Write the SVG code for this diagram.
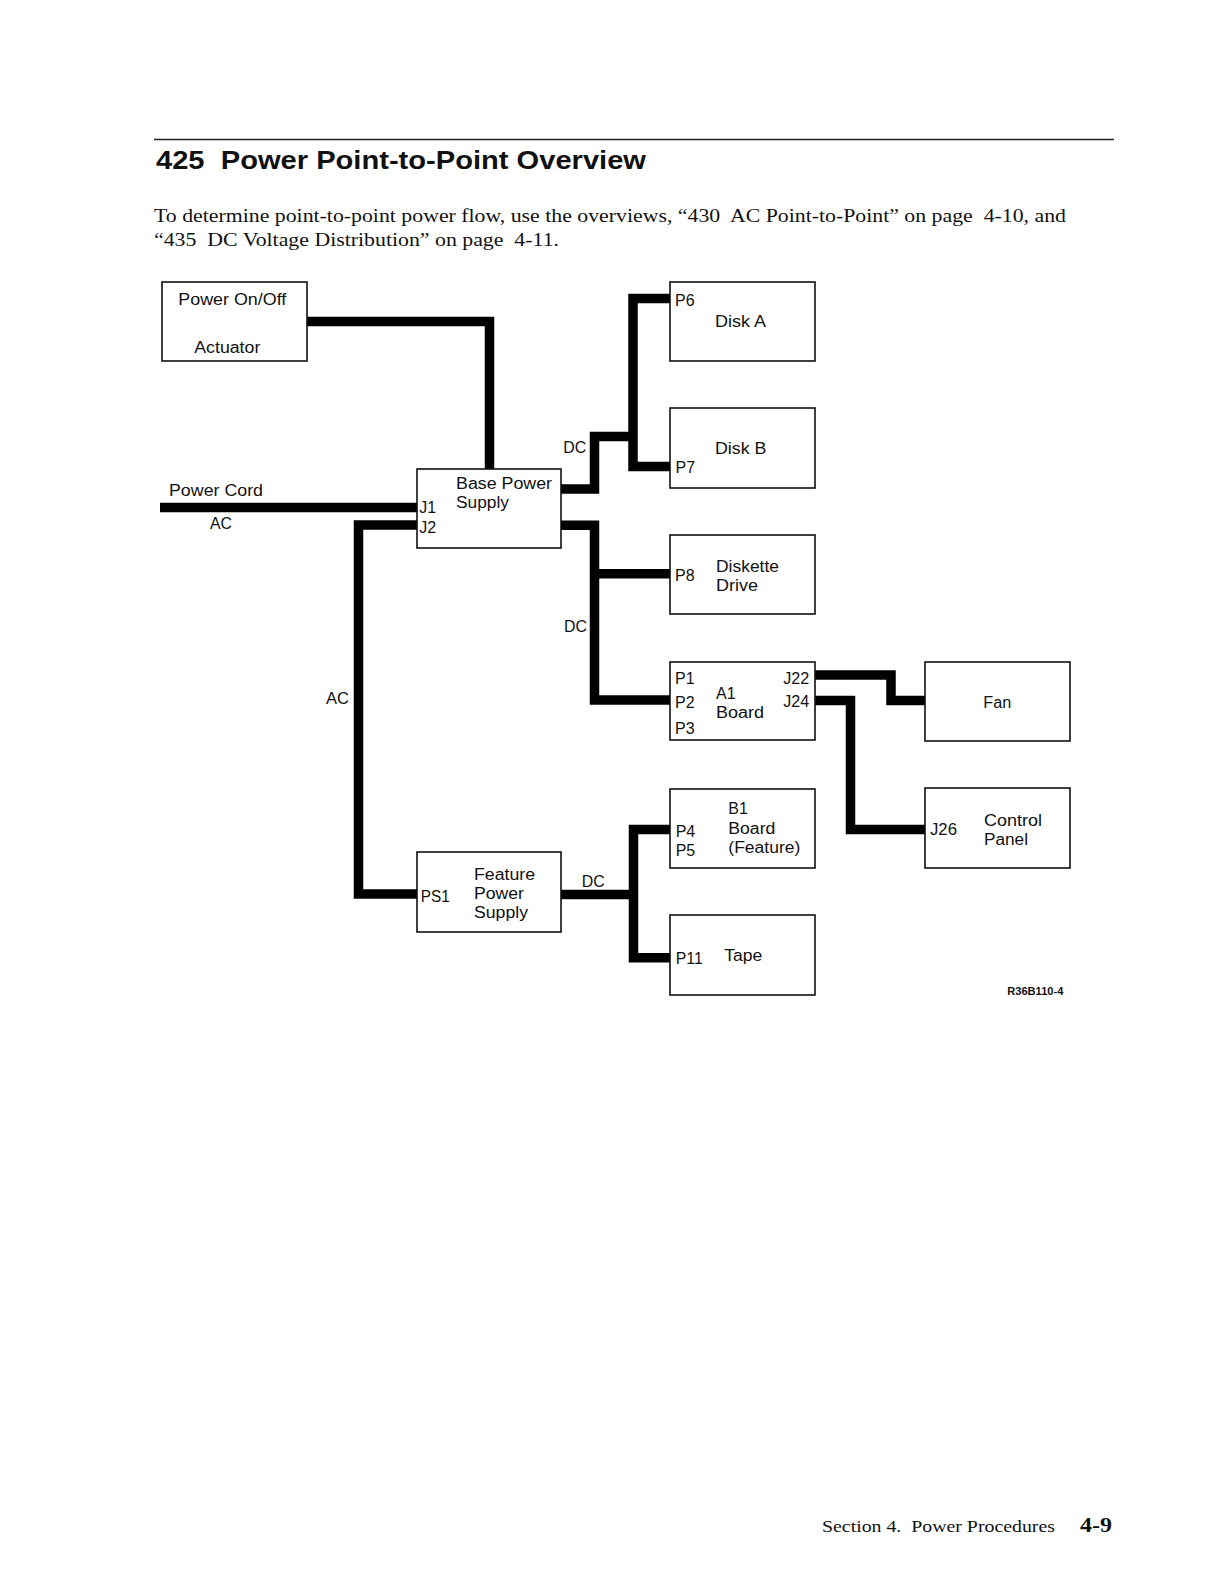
<svg xmlns="http://www.w3.org/2000/svg" width="1224" height="1582" viewBox="0 0 1224 1582">
<style>
.box{fill:#fff;stroke:#111;stroke-width:1.6}
.w{fill:none;stroke:#000;stroke-width:9.5;stroke-linejoin:miter;stroke-linecap:butt}
.l{font-family:"Liberation Sans",Arial,sans-serif;font-size:16px;fill:#111}
.t{font-family:"Liberation Serif","Times New Roman",serif;font-size:19px;fill:#111}
</style>
<rect width="1224" height="1582" fill="#fff"/>
<g id="header">
<line x1="154" y1="139.5" x2="1114" y2="139.5" stroke="#222" stroke-width="1.6"/>
<text x="156" y="169" font-family="'Liberation Sans',Arial,sans-serif" font-weight="bold" font-size="25" fill="#111" textLength="490" lengthAdjust="spacingAndGlyphs">425&#160; Power Point-to-Point Overview</text>
<text class="t" x="154" y="221.5" textLength="912" lengthAdjust="spacingAndGlyphs">To determine point-to-point power flow, use the overviews, “430&#160; AC Point-to-Point” on page&#160; 4-10, and</text>
<text class="t" x="154" y="246" textLength="405" lengthAdjust="spacingAndGlyphs">“435&#160; DC Voltage Distribution” on page&#160; 4-11.</text>
</g>
<g id="connectors">
<polyline class="w" points="307,321.5 489.5,321.5 489.5,469"/>
<polyline class="w" points="160,507.5 417,507.5"/>
<polyline class="w" points="417,525 358.5,525 358.5,894 417,894"/>
<polyline class="w" points="561,489 594.5,489 594.5,436.5 633,436.5"/>
<polyline class="w" points="670,298.5 633,298.5 633,466.5 670,466.5"/>
<polyline class="w" points="561,525.3 594.5,525.3 594.5,700 670,700"/>
<polyline class="w" points="594.5,573.8 670,573.8"/>
<polyline class="w" points="815,675 891,675 891,700.5 925,700.5"/>
<polyline class="w" points="815,700.5 850.5,700.5 850.5,829.5 925,829.5"/>
<polyline class="w" points="561,894.5 633.5,894.5"/>
<polyline class="w" points="670,829.5 633.5,829.5 633.5,957.7 670,957.7"/>
<text class="l" x="169" y="495.5" textLength="94" lengthAdjust="spacingAndGlyphs">Power Cord</text>
<text class="l" x="210" y="529.3" textLength="22" lengthAdjust="spacingAndGlyphs">AC</text>
<text class="l" x="326" y="704" textLength="23" lengthAdjust="spacingAndGlyphs">AC</text>
<text class="l" x="563.3" y="452.7" textLength="23" lengthAdjust="spacingAndGlyphs">DC</text>
<text class="l" x="564" y="631.7" textLength="23" lengthAdjust="spacingAndGlyphs">DC</text>
<text class="l" x="581.7" y="886.7" textLength="23" lengthAdjust="spacingAndGlyphs">DC</text>
</g>
<g id="actuator">
<rect class="box" x="162" y="282" width="145" height="79"/>
<text class="l" x="178.3" y="305" textLength="108" lengthAdjust="spacingAndGlyphs">Power On/Off</text>
<text class="l" x="194.3" y="353.3" textLength="66" lengthAdjust="spacingAndGlyphs">Actuator</text>
</g>
<g id="base-power-supply">
<rect class="box" x="417" y="469" width="144" height="79"/>
<text class="l" x="456" y="489" textLength="96" lengthAdjust="spacingAndGlyphs">Base Power</text>
<text class="l" x="456" y="507.7" textLength="53" lengthAdjust="spacingAndGlyphs">Supply</text>
<text class="l" x="419.3" y="513.3">J1</text>
<text class="l" x="419.3" y="533.3">J2</text>
</g>
<g id="disk-a">
<rect class="box" x="670" y="282" width="145" height="79"/>
<text class="l" x="675" y="305.7">P6</text>
<text class="l" x="715" y="327.3" textLength="51" lengthAdjust="spacingAndGlyphs">Disk A</text>
</g>
<g id="disk-b">
<rect class="box" x="670" y="408" width="145" height="80"/>
<text class="l" x="715" y="454.3" textLength="51.5" lengthAdjust="spacingAndGlyphs">Disk B</text>
<text class="l" x="675.5" y="472.7">P7</text>
</g>
<g id="diskette-drive">
<rect class="box" x="670" y="535" width="145" height="79"/>
<text class="l" x="675" y="581">P8</text>
<text class="l" x="716" y="571.7" textLength="63" lengthAdjust="spacingAndGlyphs">Diskette</text>
<text class="l" x="716" y="590.7" textLength="42" lengthAdjust="spacingAndGlyphs">Drive</text>
</g>
<g id="a1-board">
<rect class="box" x="670" y="662" width="145" height="78"/>
<text class="l" x="675" y="684.3">P1</text>
<text class="l" x="675" y="708.3">P2</text>
<text class="l" x="675" y="734">P3</text>
<text class="l" x="716" y="699.3">A1</text>
<text class="l" x="716" y="718.3" textLength="48" lengthAdjust="spacingAndGlyphs">Board</text>
<text class="l" x="783.3" y="684" textLength="26" lengthAdjust="spacingAndGlyphs">J22</text>
<text class="l" x="783.3" y="707.3" textLength="26" lengthAdjust="spacingAndGlyphs">J24</text>
</g>
<g id="fan">
<rect class="box" x="925" y="662" width="145" height="79"/>
<text class="l" x="983.3" y="708.3" textLength="28" lengthAdjust="spacingAndGlyphs">Fan</text>
</g>
<g id="b1-board">
<rect class="box" x="670" y="789" width="145" height="79"/>
<text class="l" x="728.3" y="814">B1</text>
<text class="l" x="728.3" y="834.3" textLength="47" lengthAdjust="spacingAndGlyphs">Board</text>
<text class="l" x="728.3" y="853.3" textLength="72" lengthAdjust="spacingAndGlyphs">(Feature)</text>
<text class="l" x="675.7" y="836.7">P4</text>
<text class="l" x="675.7" y="855.7">P5</text>
</g>
<g id="control-panel">
<rect class="box" x="925" y="788" width="145" height="80"/>
<text class="l" x="930" y="835" textLength="27" lengthAdjust="spacingAndGlyphs">J26</text>
<text class="l" x="984" y="825.7" textLength="58" lengthAdjust="spacingAndGlyphs">Control</text>
<text class="l" x="984" y="845" textLength="44" lengthAdjust="spacingAndGlyphs">Panel</text>
</g>
<g id="feature-power-supply">
<rect class="box" x="417" y="852" width="144" height="80"/>
<text class="l" x="420.7" y="901.7" textLength="29" lengthAdjust="spacingAndGlyphs">PS1</text>
<text class="l" x="474" y="880" textLength="61" lengthAdjust="spacingAndGlyphs">Feature</text>
<text class="l" x="474" y="899.3" textLength="50" lengthAdjust="spacingAndGlyphs">Power</text>
<text class="l" x="474" y="917.7" textLength="54" lengthAdjust="spacingAndGlyphs">Supply</text>
</g>
<g id="tape">
<rect class="box" x="670" y="915" width="145" height="80"/>
<text class="l" x="675.7" y="964" textLength="27" lengthAdjust="spacingAndGlyphs">P11</text>
<text class="l" x="724.3" y="960.7" textLength="38" lengthAdjust="spacingAndGlyphs">Tape</text>
</g>
<g id="footer">
<text x="1007.3" y="995" font-family="'Liberation Sans',Arial,sans-serif" font-weight="bold" font-size="10" fill="#111" textLength="56" lengthAdjust="spacingAndGlyphs">R36B110-4</text>
<text x="822" y="1532" font-family="'Liberation Serif','Times New Roman',serif" font-size="17" fill="#111" textLength="233" lengthAdjust="spacingAndGlyphs">Section 4.&#160; Power Procedures</text>
<text x="1080" y="1532" font-family="'Liberation Serif','Times New Roman',serif" font-weight="bold" font-size="22" fill="#111" textLength="32" lengthAdjust="spacingAndGlyphs">4-9</text>
</g>
</svg>
